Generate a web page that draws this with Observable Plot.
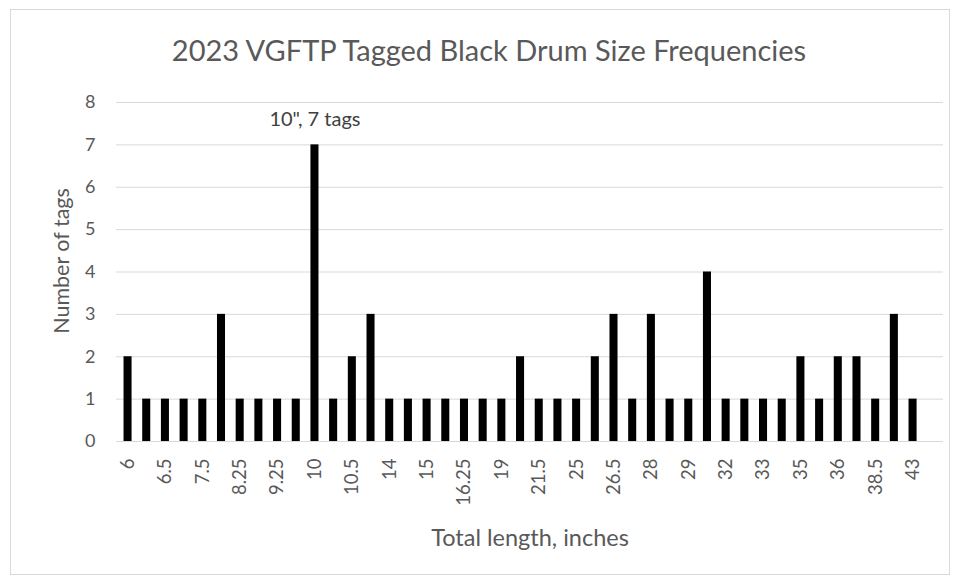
<!DOCTYPE html>
<html>
<head>
<meta charset="utf-8">
<script src="https://cdn.jsdelivr.net/npm/d3@7"></script>
<script src="https://cdn.jsdelivr.net/npm/@observablehq/plot@0.6"></script>
<style>
  html, body { margin: 0; padding: 0; background: #fff; }
  #frame { position: absolute; left: 10px; top: 9px; width: 940px; height: 566px; border: 1px solid #d9d9d9; box-sizing: border-box; overflow: hidden; }
  #title { position: absolute; left: 0; top: 22px; width: 956px; text-align: center; font-family: Lato, "Open Sans", sans-serif; font-size: 29px; color: #595959; }
  #chart { position: absolute; left: 0; top: 71px; }
</style>
</head>
<body>
<div id="frame">
  <div id="title">2023 VGFTP Tagged Black Drum Size Frequencies</div>
  <div id="chart"></div>
</div>
<script>
// Length categories (inches); every other one is labelled on the axis
const lengths = ["6","6.25","6.5","7","7.5","8","8.25","9","9.25","9.5","10","10.25","10.5","11","14","14.5","15","16","16.25","18","19","20","21.5","24","25","26","26.5","27","28","28.5","29","30","32","32.5","33","34","35","35.5","36","37","38.5","40","43"];
const tags = [2,1,1,1,1,3,1,1,1,1,7,1,2,3,1,1,1,1,1,1,1,2,1,1,1,2,3,1,3,1,1,4,1,1,1,1,2,1,2,2,1,3,1];
const tickLabels = ["6","6.5","7.5","8.25","9.25","10","10.5","14","15","16.25","19","21.5","25","26.5","28","29","32","33","35","36","38.5","43"];
const yTicks = [0,1,2,3,4,5,6,7,8];
const annotation = [{length: "10", tags: 7, text: "10\", 7 tags"}];

const data = lengths.map((l, i) => ({length: l, tags: tags[i]}));

const chart = Plot.plot({
  width: 938,
  height: 495,
  marginTop: 21,
  marginBottom: 135,
  marginLeft: 105,
  marginRight: 6,
  style: {fontFamily: "Lato, 'Open Sans', sans-serif", color: "#595959", background: "transparent"},
  x: {type: "band", domain: lengths, range: [107.2, 910.9], paddingInner: 0.57, paddingOuter: 0.285, round: false},
  y: {domain: [0, 8]},
  marks: [
    Plot.gridY(yTicks, {stroke: "#d9d9d9", strokeOpacity: 1, strokeWidth: 1}),
    Plot.ruleY([0], {stroke: "#d9d9d9", strokeWidth: 1}),
    Plot.barY(data, {x: "length", y: "tags", fill: "#000"}),
    Plot.text(annotation, {x: "length", y: "tags", text: "text", dy: -25, fontSize: 20, fill: "#404040"}),
    Plot.axisY(yTicks, {tickSize: 0, tickPadding: 21, fontSize: 18, label: null, fill: "#595959"}),
    Plot.axisX(tickLabels, {tickSize: 0, tickPadding: 17, tickRotate: -90, fontSize: 18.5, label: null, fill: "#595959"}),
    Plot.text(["Number of tags"], {frameAnchor: "left", textAnchor: "middle", lineAnchor: "middle", rotate: -90, dx: -54, dy: -11, fontSize: 21.5, fill: "#595959"}),
    Plot.text(["Total length, inches"], {frameAnchor: "bottom", textAnchor: "middle", lineAnchor: "middle", dy: 97, fontSize: 23.5, fill: "#595959"})
  ]
});
document.getElementById("chart").appendChild(chart);
</script>
</body>
</html>
